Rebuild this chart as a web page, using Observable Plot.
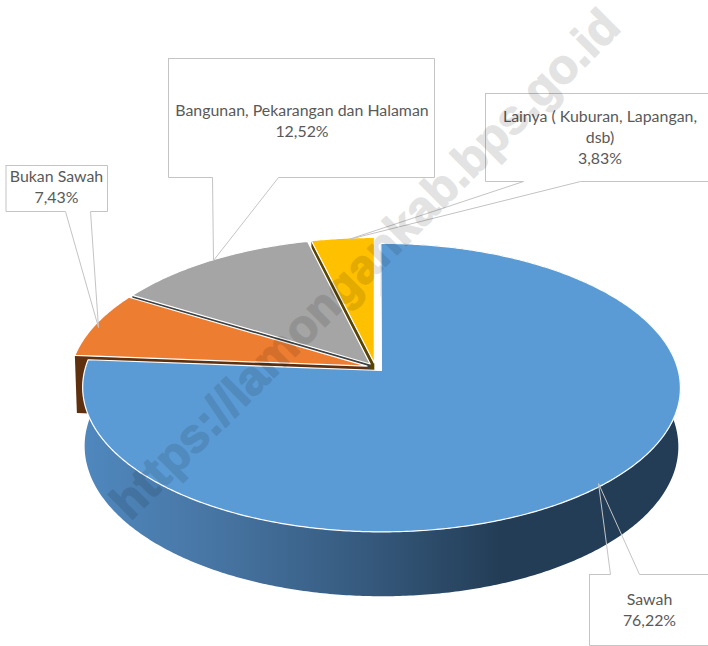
<!DOCTYPE html>
<html><head><meta charset="utf-8">
<style>html,body{margin:0;padding:0;background:#fff}svg{display:block}</style>
<script src="https://cdn.jsdelivr.net/npm/d3@7"></script>
<script src="https://cdn.jsdelivr.net/npm/@observablehq/plot@0.6"></script>
</head><body><div id="chart"></div>
<script>
// DATA
const categories = ["Sawah", "Bukan Sawah", "Bangunan, Pekarangan dan Halaman", "Lainya ( Kuburan, Lapangan,\ndsb)"];
const shares = [76.22, 7.43, 12.52, 3.83];
const watermark = "https://lamongankab.bps.go.id";

// STYLE
const topColors = ["#5b9bd5", "#ed7d31", "#a5a5a5", "#ffc000"];
const wallColors = ["url(#sideBlue)", "#5e300e", "#3d4144", "#594300"];

// LAYOUT of the tilted pie (perspective view of a unit disc)
const W = 708, H = 646;
const view = {cx: 374.9, cy: 366.9, rx: 296, ry: 141.5, k: 0.118, explode: 0.03,
              drop: 58, rxLow: 294, ryLow: 147};
const pie = d3.pie().sort(null).startAngle(0).endAngle(2 * Math.PI)(shares);

function project(a, offA, low) {
  const ox = view.explode * Math.sin(offA), oy = -view.explode * Math.cos(offA);
  const u = a === null ? ox : Math.sin(a) + ox, v = a === null ? oy : -Math.cos(a) + oy;
  const w = 1 - view.k * v;
  return low
    ? {x: view.cx + view.rxLow * u / w, y: view.cy + view.drop + view.ryLow * v / w}
    : {x: view.cx + view.rx * u / w, y: view.cy + view.ry * v / w};
}
function arc(a0, a1, mid, low) {
  const n = Math.ceil(Math.abs(a1 - a0) / 0.01);
  return d3.range(n + 1).map(i => project(a0 + (a1 - a0) * i / n, mid, low));
}
const slices = pie.map(p => ({...p, mid: (p.startAngle + p.endAngle) / 2}));
const topPoly = s => [project(null, s.mid, false), ...arc(s.startAngle, s.endAngle, s.mid, false), project(null, s.mid, false)];
const cutWall = s => [project(s.startAngle, s.mid, false), project(null, s.mid, false), project(null, s.mid, true), project(s.startAngle, s.mid, true)];
const blueSide = s => [...arc(s.startAngle, s.endAngle, s.mid, false), ...arc(s.startAngle, s.endAngle, s.mid, true).reverse()];

// Callouts (outline, then label anchor)
const callouts = [
  {i: 0, outline: [[589,574],[610,574],[598,483],[639,574],[708,574],[708,645],[589,645],[589,574]], tx: 649, ty: 608},
  {i: 1, outline: [[5.5,165],[107,165],[107,211],[90,211],[98,327],[65,211],[5.5,211],[5.5,165]], tx: 56, ty: 185.5},
  {i: 2, outline: [[168,58],[434,58],[434,177],[278,177],[213,260],[212,177],[168,177],[168,58]], tx: 301.5, ty: 119},
  {i: 3, outline: [[485,93],[708,93],[708,181],[580,181],[348,239],[523,181],[485,181],[485,93]], tx: 599.5, ty: 136}
];
const pct = v => v.toFixed(2).replace(".", ",") + "%";
const poly = (pts, o) => Plot.line(pts, {x: "x", y: "y", ...o});

const gradient = () => {
  const defs = d3.create("svg:defs");
  const g = defs.append("linearGradient").attr("id", "sideBlue")
    .attr("gradientUnits", "userSpaceOnUse").attr("x1", 82).attr("x2", 680).attr("y1", 0).attr("y2", 0);
  [[0, "#4f88be"], [0.2, "#4877a6"], [0.47, "#365a7e"], [0.7, "#233d56"], [1, "#233d56"]]
    .forEach(([o, c]) => g.append("stop").attr("offset", o).attr("stop-color", c));
  return defs.node();
};

const marks = [gradient];
// back-to-front: Lainya, Bangunan, Bukan Sawah, Sawah
for (const i of [3, 2, 1]) {
  marks.push(poly(cutWall(slices[i]), {fill: wallColors[i]}));
  marks.push(poly(topPoly(slices[i]), {fill: topColors[i], stroke: "#fff", strokeWidth: 1.2}));
}
marks.push(poly(blueSide(slices[0]), {fill: wallColors[0]}));
marks.push(poly(topPoly(slices[0]), {fill: topColors[0], stroke: "#fff", strokeWidth: 1.2}));
// callouts
for (const c of callouts) {
  marks.push(Plot.line(c.outline, {x: d => d[0], y: d => d[1], stroke: "#c4c4c4", strokeWidth: 1}));
}
marks.push(Plot.text(callouts, {
  x: "tx", y: "ty",
  text: c => categories[c.i] + "\n" + pct(shares[c.i]),
  fill: "#595959", fontFamily: "Lato", fontSize: 15.9, lineHeight: 1.33, textAnchor: "middle"
}));
// watermark
marks.push(Plot.text([watermark], {
  x: () => 365, y: () => 264, text: d => d, rotate: -45,
  fontFamily: "Liberation Sans", fontWeight: "bold", fontSize: 48,
  fill: "#000", stroke: "#000", strokeWidth: 1.4, opacity: 0.105, textAnchor: "middle"
}));

const chart = Plot.plot({
  width: W, height: H, margin: 0,
  x: {domain: [0, W], range: [0, W], axis: null},
  y: {domain: [0, H], range: [0, H], axis: null},
  style: {background: "#fff"},
  marks
});
document.getElementById("chart").append(chart);
</script></body></html>
